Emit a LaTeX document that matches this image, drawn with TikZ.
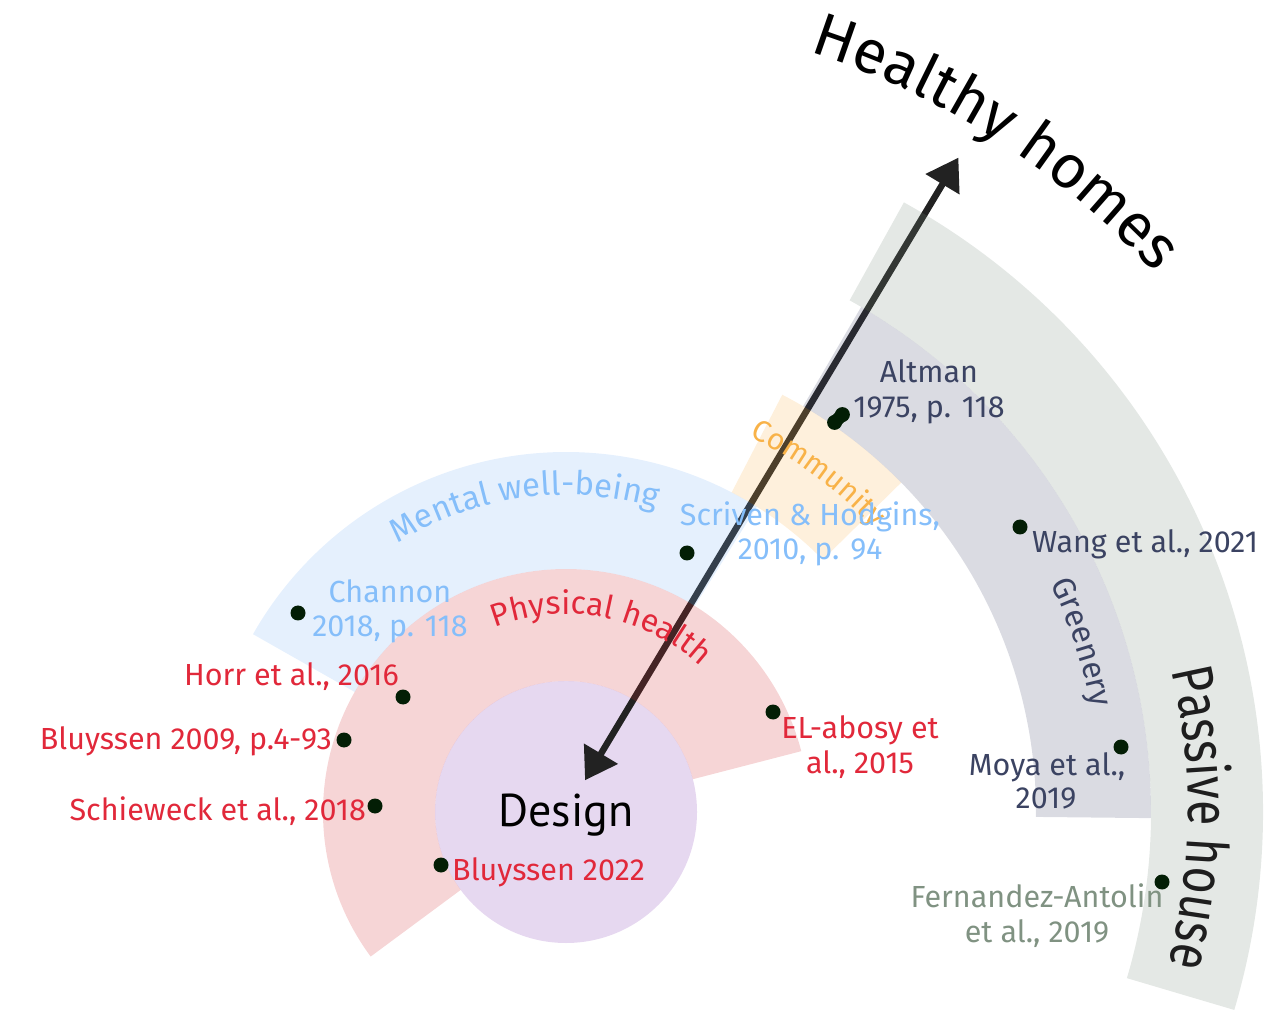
\documentclass[tikz,border=0pt]{standalone}
\usepackage{fontspec}
\setmainfont{Fira Sans}
\newfontfamily\designfont{PT Sans}
\newfontfamily\narrowfont[FakeStretch=0.8]{Fira Sans}
\usetikzlibrary{arrows.meta,decorations.text}

% fills (drawn at 20% opacity over white)
\definecolor{fillpink}{RGB}{210,45,50}
\definecolor{fillblue}{RGB}{125,180,245}
\definecolor{fillorange}{RGB}{250,180,80}
\definecolor{fillslate}{RGB}{70,75,110}
\definecolor{fillsage}{RGB}{120,140,125}
\definecolor{lavender}{RGB}{230,216,240}
% text and marks
\definecolor{citered}{RGB}{225,40,58}
\definecolor{citeblue}{RGB}{133,190,250}
\definecolor{citeorange}{RGB}{248,178,72}
\definecolor{citeslate}{RGB}{59,67,98}
\definecolor{citesage}{RGB}{128,146,130}
\definecolor{headtext}{RGB}{30,30,30}
\definecolor{arrowgray}{RGB}{34,34,34}
\definecolor{dotgreen}{RGB}{3,30,5}

% annular sector: style, start angle, end angle, inner radius, outer radius
\newcommand{\ringsector}[5]{%
  \fill[#1] (#2:#4) arc[start angle=#2, end angle=#3, radius=#4]
    -- (#3:#5) arc[start angle=#3, end angle=#2, radius=#5] -- cycle;}

\tikzset{
  sector/.style={fill opacity=0.2},
  cite/.style={font=\fontsize{30.5}{30.5}\selectfont, inner sep=0pt, anchor=base},
  refdot/.style={circle, fill=dotgreen, inner sep=0pt, minimum size=15pt},
  bigarrow/.style={arrowgray, line width=6.5pt,
    {Triangle[length=31pt,width=38pt]}-{Triangle[length=31pt,width=38pt]}},
}

\begin{document}
\begin{tikzpicture}[x=1pt,y=1pt]
\useasboundingbox (0,0) rectangle (1287,1010);

\begin{scope}[shift={(566,198)}]
  % central design circle
  \node[circle, fill=lavender, minimum size=262pt, inner sep=0pt] (core) at (0,0) {};

  % double arrow from design to healthy homes
  \coordinate (lo) at (59.05:37);
  \coordinate (hi) at (59.05:763);
  \draw[bigarrow] (lo) -- (hi);

  % rings of themes
  \ringsector{sector, fill=fillpink}{14.5}{216.5}{131}{243}
  \ringsector{sector, fill=fillblue}{58}{150.4}{243}{360}
  \ringsector{sector, fill=fillorange}{44.5}{62.6}{360}{470}
  \ringsector{sector, fill=fillslate}{-0.6}{59.7}{470}{585}
  \ringsector{sector, fill=fillsage}{-16.5}{61}{585}{697}

  % curved theme titles
  \path[decorate, decoration={text along path, text align=center,
      text color=black, text={|\fontsize{61}{61}\selectfont|Healthy homes}}]
    (85:798) arc[start angle=85, end angle=29.7, radius=798];
  \path[decorate, decoration={text along path, text align=center,
      text color=citeblue, text={|\fontsize{33}{33}\selectfont|Mental well-being}}]
    (140:317) arc[start angle=140, end angle=55.5, radius=317];
  \path[decorate, decoration={text along path, text align=center,
      text color=citered, text={|\fontsize{32}{32}\selectfont|Physical health}}]
    (125:198) arc[start angle=125, end angle=33.2, radius=198];
  \path[decorate, decoration={text along path, text align=center,
      text color=citeorange, text={|\fontsize{30}{30}\selectfont|Community}}]
    (75:418) arc[start angle=75, end angle=31.6, radius=418];
  \path[decorate, decoration={text along path, text align=center,
      text color=citeslate, text={|\fontsize{32}{32}\selectfont|Greenery}}]
    (40:536) arc[start angle=40, end angle=-3.6, radius=536];
  \path[decorate, decoration={text along path, text align=center,
      text color=headtext, text={|\narrowfont\fontsize{58}{58}\selectfont|Passive house}}]
    (25:622) arc[start angle=25, end angle=-26, radius=622];
\end{scope}

% centre title
\node[inner sep=0pt, anchor=base, font=\designfont\fontsize{46}{46}\selectfont] (design) at (566,184) {Design};

% reference dots
\node[refdot] (d-alt-a) at (834.6,587.6) {};
\node[refdot] (d-alt-b) at (842.4,595.4) {};
\draw[dotgreen, line width=13pt, line cap=round] (d-alt-a.center) -- (d-alt-b.center);
\node[refdot] (d-wang) at (1020,483) {};
\node[refdot] (d-moya) at (1121,263) {};
\node[refdot] (d-fern) at (1162,128) {};
\node[refdot] (d-scr) at (687,457) {};
\node[refdot] (d-chan) at (298,397) {};
\node[refdot] (d-horr) at (403,313) {};
\node[refdot] (d-bl09) at (344,270) {};
\node[refdot] (d-sch) at (375,204) {};
\node[refdot] (d-bl22) at (441,145) {};
\node[refdot] (d-el) at (773,298) {};

% references
\node[cite, text=citeslate] (alt1) at (929,627) {Altman};
\node[cite, text=citeslate] (alt2) at (929,592) {1975, p. 118};
\node[cite, text=citeslate, anchor=base west] (wang) at (1032,457) {Wang et al., 2021};
\node[cite, text=citeslate] (moya1) at (1047,235) {Moya et al.,};
\node[cite, text=citeslate] (moya2) at (1046,202) {2019};
\node[cite, text=citesage] (fern1) at (1037,103) {Fernandez-Antolin};
\node[cite, text=citesage] (fern2) at (1037,68) {et al., 2019};
\node[cite, text=citeblue] (scr1) at (810,484) {Scriven \& Hodgins,};
\node[cite, text=citeblue] (scr2) at (810,450) {2010, p. 94};
\node[cite, text=citeblue] (chan1) at (390,407) {Channon};
\node[cite, text=citeblue] (chan2) at (390,373) {2018, p. 118};
\node[cite, text=citered, anchor=base east] (horr) at (399,325) {Horr et al., 2016};
\node[cite, text=citered, anchor=base east] (bl09) at (332,261) {Bluyssen 2009, p.4-93};
\node[cite, text=citered, anchor=base east] (sch) at (366,190) {Schieweck et al., 2018};
\node[cite, text=citered, anchor=base west] (bl22) at (452,130) {Bluyssen 2022};
\node[cite, text=citered] (el1) at (860,272) {EL-abosy et};
\node[cite, text=citered] (el2) at (860,237) {al., 2015};
\end{tikzpicture}
\end{document}
